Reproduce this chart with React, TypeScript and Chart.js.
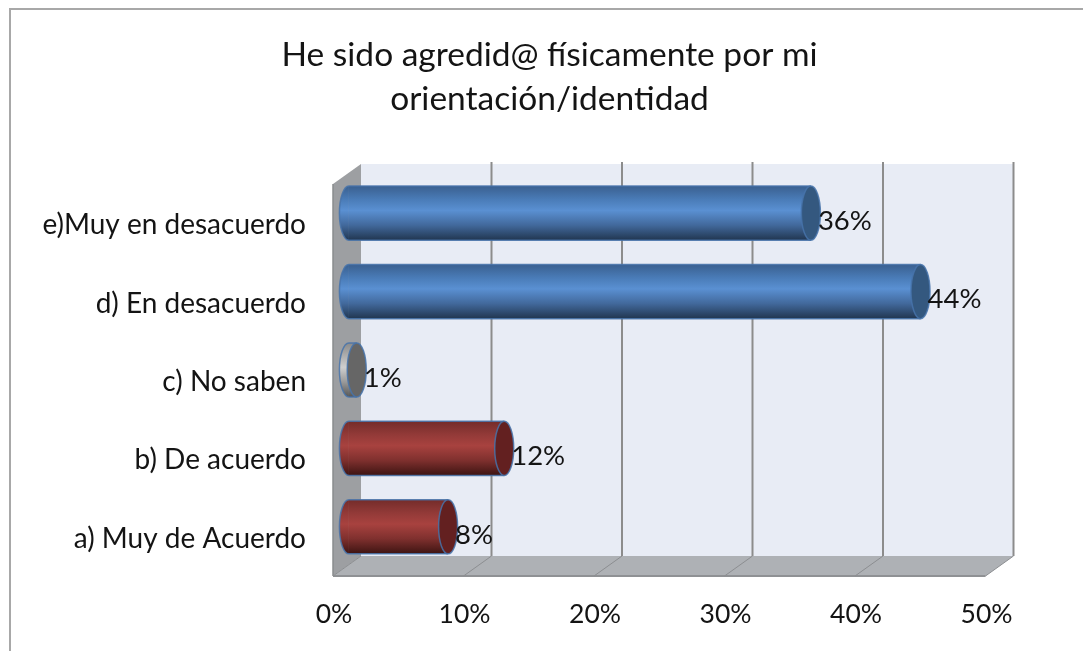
import React, { useEffect, useRef } from "react";
import { Chart, registerables } from "chart.js";

Chart.register(...registerables);

const titleLines = ["He sido agredid@ físicamente por mi", "orientación/identidad"];
const categories = ["e)Muy en desacuerdo", "d) En desacuerdo", "c) No saben", "b) De acuerdo", "a) Muy de Acuerdo"];
const values = [35.7, 44.1, 0.9, 12.2, 7.9];
const tickValues = [0, 10, 20, 30, 40, 50];

const FONT = "Lato, Carlito, 'Open Sans', sans-serif";
const palettes = [
  { stops: ["#3a6090", "#4a7cb8", "#5a90d2", "#42699c", "#213650"], cap: "#34587f" },
  { stops: ["#3a6090", "#4a7cb8", "#5a90d2", "#42699c", "#213650"], cap: "#34587f" },
  { stops: ["#8a8a8a", "#b0b0b0", "#cfcfcf", "#9a9a9a", "#555555"], cap: "#666666" },
  { stops: ["#742c2a", "#933a38", "#a8423f", "#7f302e", "#3d1412"], cap: "#632020" },
  { stops: ["#742c2a", "#933a38", "#a8423f", "#7f302e", "#3d1412"], cap: "#632020" },
];
const stopAt = [0, 0.25, 0.45, 0.72, 1];
const OUTLINE = "rgba(70,115,170,0.85)";
const DX_BACK = 16, DX_FRONT = 12, DY = 10, CAP_RX = 9.5;

function rowGradient(c: CanvasRenderingContext2D, top: number, bottom: number, i: number) {
  const g = c.createLinearGradient(0, top, 0, bottom);
  palettes[i].stops.forEach((s, k) => g.addColorStop(stopAt[k], s));
  return g;
}

const scenePlugin = {
  id: "scene",
  afterLayout(chart: any) {
    // let the long category labels run left of the axis box without being clipped
    chart.scales.y.left = 0;
  },
  beforeDatasetsDraw(chart: any) {
    const c: CanvasRenderingContext2D = chart.ctx;
    const { x } = chart.scales;
    const { top, bottom, left, right } = chart.chartArea;
    c.save();
    // outer frame
    c.strokeStyle = "#a8a8a8";
    c.lineWidth = 2;
    c.beginPath();
    c.moveTo(10, chart.height);
    c.lineTo(10, 9);
    c.lineTo(chart.width, 9);
    c.stroke();
    // back wall
    c.fillStyle = "#e8ecf5";
    c.fillRect(left + DX_BACK, top - DY, right - left, bottom - top);
    // floor
    c.fillStyle = "#aeb1b5";
    c.beginPath();
    c.moveTo(left - DX_FRONT, bottom + DY);
    c.lineTo(left + DX_BACK, bottom - DY);
    c.lineTo(right + DX_BACK, bottom - DY);
    c.lineTo(right - DX_FRONT, bottom + DY);
    c.closePath();
    c.fill();
    c.strokeStyle = "#8f9194";
    c.lineWidth = 2;
    c.beginPath();
    c.moveTo(left - DX_FRONT, bottom + DY);
    c.lineTo(right - DX_FRONT, bottom + DY);
    c.stroke();
    // left wall
    c.fillStyle = "#9d9fa2";
    c.beginPath();
    c.moveTo(left - DX_FRONT, top + DY);
    c.lineTo(left + DX_BACK, top - DY);
    c.lineTo(left + DX_BACK, bottom - DY);
    c.lineTo(left - DX_FRONT, bottom + DY);
    c.closePath();
    c.fill();
    c.strokeStyle = "#8a8c8e";
    c.lineWidth = 1.5;
    c.beginPath();
    c.moveTo(left - DX_FRONT, top + DY);
    c.lineTo(left - DX_FRONT, bottom + DY);
    c.stroke();
    // grid lines on wall and floor
    tickValues.forEach((v, i) => {
      const px = x.getPixelForValue(v);
      if (i > 0) {
        c.strokeStyle = "#8c8c8c";
        c.lineWidth = 2;
        c.beginPath();
        c.moveTo(px + DX_BACK, top - DY - 2);
        c.lineTo(px + DX_BACK, bottom - DY);
        c.stroke();
      }
      c.strokeStyle = "#8c8e91";
      c.lineWidth = 1;
      c.beginPath();
      c.moveTo(px + DX_BACK, bottom - DY);
      c.lineTo(px - DX_FRONT, bottom + DY);
      c.stroke();
    });
    // left rounded ends of the cylinders
    chart.getDatasetMeta(0).data.forEach((el: any, i: number) => {
      const h = el.height / 2;
      c.fillStyle = rowGradient(c, el.y - h, el.y + h, i);
      c.beginPath();
      c.ellipse(el.base, el.y, CAP_RX, h, 0, Math.PI / 2, (3 * Math.PI) / 2);
      c.closePath();
      c.fill();
    });
    c.restore();
  },
  afterDatasetsDraw(chart: any) {
    const c: CanvasRenderingContext2D = chart.ctx;
    c.save();
    chart.getDatasetMeta(0).data.forEach((el: any, i: number) => {
      const h = el.height / 2;
      // outline
      c.strokeStyle = OUTLINE;
      c.lineWidth = 1.5;
      c.beginPath();
      c.ellipse(el.base, el.y, CAP_RX, h, 0, Math.PI / 2, (3 * Math.PI) / 2);
      c.lineTo(el.x, el.y - h);
      c.moveTo(el.base, el.y + h);
      c.lineTo(el.x, el.y + h);
      c.stroke();
      // end cap
      c.fillStyle = palettes[i].cap;
      c.beginPath();
      c.ellipse(el.x, el.y, CAP_RX, h, 0, 0, Math.PI * 2);
      c.fill();
      c.stroke();
      // value label
      c.fillStyle = "#141414";
      c.font = `27.5px ${FONT}`;
      c.textAlign = "left";
      c.textBaseline = "middle";
      c.fillText(`${Math.round(values[i])}%`, el.x + CAP_RX - 2.5, el.y + 8);
    });
    c.restore();
  },
};

export default function App() {
  const ref = useRef<HTMLCanvasElement | null>(null);
  useEffect(() => {
    if (!ref.current) return;
    const chart = new Chart(ref.current, {
      type: "bar",
      plugins: [scenePlugin],
      data: {
        labels: categories,
        datasets: [
          {
            data: values,
            base: 0.3,
            barPercentage: 0.69,
            categoryPercentage: 1,
            borderWidth: 0,
            backgroundColor: (ctx: any) => {
              const { chart: ch, dataIndex } = ctx;
              if (!ch.chartArea || dataIndex === undefined) return palettes[dataIndex ?? 0]?.stops[2];
              const step = (ch.chartArea.bottom - ch.chartArea.top) / categories.length;
              const cy = ch.scales.y.getPixelForValue(dataIndex);
              const h = (step * 0.69) / 2;
              return rowGradient(ch.ctx, cy - h, cy + h, dataIndex);
            },
          },
        ],
      },
      options: {
        indexAxis: "y",
        responsive: false,
        animation: false,
        layout: { padding: { left: 101.5, right: 85.5, top: 33, bottom: 0 } },
        plugins: {
          legend: { display: false },
          tooltip: { enabled: false },
          title: {
            display: true,
            text: titleLines,
            color: "#141414",
            font: { family: FONT, size: 33.5, weight: "normal", lineHeight: 1.313 },
            padding: { top: 0, bottom: 53 },
          },
        },
        scales: {
          x: {
            type: "linear",
            min: 0,
            max: 50,
            afterFit: (s: any) => { s.height = 85; },
            afterBuildTicks: (s: any) => { s.ticks = tickValues.map((value) => ({ value })); },
            grid: { display: false, drawTicks: false },
            border: { display: false },
            ticks: {
              callback: (v: any) => `${v}%`,
              color: "#141414",
              font: { family: FONT, size: 26.5 },
              padding: 33,
              labelOffset: -11,
              maxRotation: 0,
              autoSkip: false,
            },
          },
          y: {
            type: "category",
            afterFit: (s: any) => { s.width = 243.5; },
            grid: { display: false, drawTicks: false },
            border: { display: false },
            ticks: {
              color: "#141414",
              font: { family: FONT, size: 28 },
              padding: 39,
              labelOffset: 12,
              autoSkip: false,
            },
          },
        },
      },
    } as any);
    return () => chart.destroy();
  }, []);
  return (
    <div style={{ position: "absolute", left: 0, top: 0, width: 1083, height: 651, background: "#fff" }}>
      <canvas ref={ref} width={1083} height={651} style={{ display: "block" }} />
    </div>
  );
}
